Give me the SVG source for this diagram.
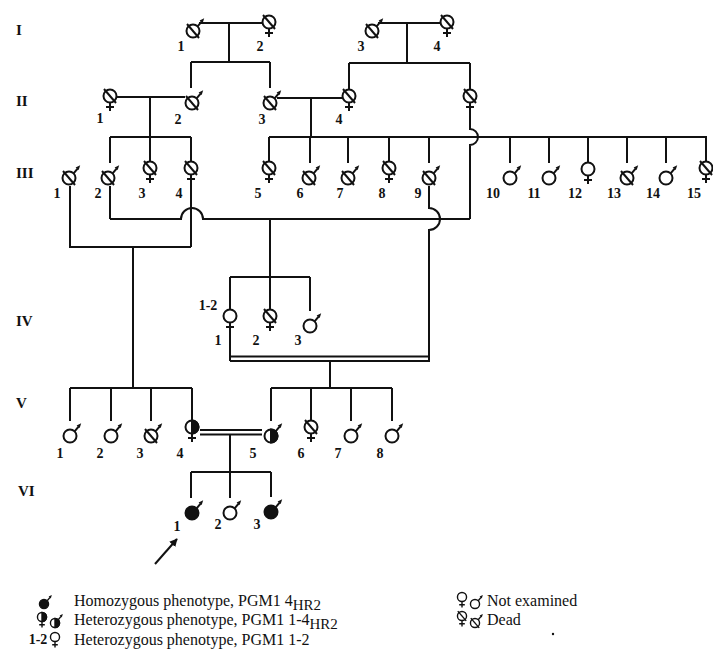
<svg xmlns="http://www.w3.org/2000/svg" xmlns:xlink="http://www.w3.org/1999/xlink" width="713" height="658" viewBox="0 0 713 658">
<style>
.c path,.c line{stroke:#111;stroke-width:2;fill:none}
.sym{stroke:#111;stroke-width:2}
.lbl{font-family:"Liberation Serif","Times New Roman",serif;font-size:14px;font-weight:bold;fill:#111;text-anchor:middle}
.gen{font-family:"Liberation Serif","Times New Roman",serif;font-size:15px;font-weight:bold;fill:#111}
.leg{font-family:"Liberation Serif","Times New Roman",serif;font-size:16px;fill:#111}
</style>
<defs>
<g id="m"><circle r="6.5"/><path d="M4.6,-4.6 L8.6,-9.4" fill="none"/><polygon points="11.2,-12.8 6.6,-10.6 9.7,-7.9" fill="#111" stroke="none"/></g>
<g id="f"><circle r="6.5"/><path d="M0,6.5 V15 M-4,11 H4" fill="none"/></g>
<path id="d" d="M-6,-7 L6,7" fill="none"/>
<path id="h" d="M0,-6.5 A6.5,6.5 0 0 1 0,6.5 Z" fill="#111"/>
<marker id="ah" viewBox="0 0 10 10" refX="9" refY="5" markerWidth="4" markerHeight="4" orient="auto"><path d="M0,0 L10,5 L0,10 Z" fill="#111"/></marker>
</defs>

<g id="gen-labels" class="gen">
<text x="16" y="35">I</text>
<text x="16" y="106">II</text>
<text x="16" y="178">III</text>
<text x="16" y="326">IV</text>
<text x="16" y="408">V</text>
<text x="18" y="496">VI</text>
</g>

<g id="connectors" class="c">
<path d="M199,23 H262 M229,23 V62 M191,62 H270 M191,62 V88 M270,62 V88"/>
<path d="M378,23 H440 M407,23 V63 M349,63 H470 M349,63 V89.5 M470,63 V89.5"/>
<path d="M117,97 H185 M150,97 V137 M110,137 H191 M110,137 V163 M150,137 V161.5 M191,137 V161.5"/>
<path d="M277,98 H342 M311,98 V137 M269,137 H707"/>
<path d="M269,137 V161.5 M310,137 V163 M348,137 V163 M389,137 V161.5 M429,137 V163 M510,137 V163 M549,137 V163 M588,137 V162 M627,137 V163 M666,137 V163 M706,137 V161.5"/>
<path d="M470,111 V129 A8,8 0 0 1 470,145 V219"/>
<path d="M470,219 H203 A11,11 0 0 0 181,219 H110 M110,186 V219"/>
<path d="M429,186 V208 A11,11 0 0 1 429,230 V361"/>
<path d="M191,183 V247 M70,186 V247 H191 M133,247 V388"/>
<path d="M70,388 H192 M70,388 V421 M111,388 V421 M151,388 V421 M192,388 V420.5"/>
<path d="M270,219 V277 M230,277 H310 M230,277 V309.5 M270,277 V309.5 M310,277 V311"/>
<path d="M230,331 V361 M230,356.5 H430 M230,361 H430 M330,361 V388"/>
<path d="M271,388 H392 M271,388 V421 M311,388 V420.5 M351,388 V421 M392,388 V421"/>
<path d="M200,430 H262 M200,434.5 H262 M230,434.5 V472"/>
<path d="M191,472 H271 M191,472 V498 M230,472 V498 M271,472 V497"/>
<line x1="155" y1="564" x2="177" y2="539" stroke-width="3" marker-end="url(#ah)"/>
</g>

<g id="I-1" class="sym"><use href="#m" x="193" y="31" fill="#fff"/><use href="#d" x="193" y="31"/><text class="lbl" x="181" y="51" stroke="none">1</text></g>
<g id="I-2" class="sym"><use href="#f" x="269" y="22" fill="#fff"/><use href="#d" x="269" y="22"/><text class="lbl" x="260" y="51" stroke="none">2</text></g>
<g id="I-3" class="sym"><use href="#m" x="372" y="31" fill="#fff"/><use href="#d" x="372" y="31"/><text class="lbl" x="361" y="51" stroke="none">3</text></g>
<g id="I-4" class="sym"><use href="#f" x="447" y="22" fill="#fff"/><use href="#d" x="447" y="22"/><text class="lbl" x="437" y="51" stroke="none">4</text></g>

<g id="II-1" class="sym"><use href="#f" x="110" y="96" fill="#fff"/><use href="#d" x="110" y="96"/><text class="lbl" x="100" y="123" stroke="none">1</text></g>
<g id="II-2" class="sym"><use href="#m" x="192" y="103" fill="#fff"/><use href="#d" x="192" y="103"/><text class="lbl" x="178" y="124" stroke="none">2</text></g>
<g id="II-3" class="sym"><use href="#m" x="270" y="103" fill="#fff"/><use href="#d" x="270" y="103"/><text class="lbl" x="262" y="124" stroke="none">3</text></g>
<g id="II-4" class="sym"><use href="#f" x="349" y="96" fill="#fff"/><use href="#d" x="349" y="96"/><text class="lbl" x="339" y="124" stroke="none">4</text></g>
<g id="II-5" class="sym"><use href="#f" x="470" y="96" fill="#fff"/><use href="#d" x="470" y="96"/></g>

<g id="III-1" class="sym"><use href="#m" x="69" y="178" fill="#fff"/><use href="#d" x="69" y="178"/><text class="lbl" x="57" y="198" stroke="none">1</text></g>
<g id="III-2" class="sym"><use href="#m" x="108" y="178" fill="#fff"/><use href="#d" x="108" y="178"/><text class="lbl" x="98" y="198" stroke="none">2</text></g>
<g id="III-3" class="sym"><use href="#f" x="150" y="168" fill="#fff"/><use href="#d" x="150" y="168"/><text class="lbl" x="142" y="198" stroke="none">3</text></g>
<g id="III-4" class="sym"><use href="#f" x="191" y="168" fill="#fff"/><use href="#d" x="191" y="168"/><text class="lbl" x="179" y="198" stroke="none">4</text></g>
<g id="III-5" class="sym"><use href="#f" x="269" y="168" fill="#fff"/><use href="#d" x="269" y="168"/><text class="lbl" x="258" y="198" stroke="none">5</text></g>
<g id="III-6" class="sym"><use href="#m" x="309" y="178" fill="#fff"/><use href="#d" x="309" y="178"/><text class="lbl" x="300" y="198" stroke="none">6</text></g>
<g id="III-7" class="sym"><use href="#m" x="348" y="178" fill="#fff"/><use href="#d" x="348" y="178"/><text class="lbl" x="340" y="198" stroke="none">7</text></g>
<g id="III-8" class="sym"><use href="#f" x="389" y="168" fill="#fff"/><use href="#d" x="389" y="168"/><text class="lbl" x="382" y="198" stroke="none">8</text></g>
<g id="III-9" class="sym"><use href="#m" x="429" y="178" fill="#fff"/><use href="#d" x="429" y="178"/><text class="lbl" x="418" y="198" stroke="none">9</text></g>
<g id="III-10" class="sym"><use href="#m" x="510" y="178" fill="#fff"/><text class="lbl" x="493" y="198" stroke="none">10</text></g>
<g id="III-11" class="sym"><use href="#m" x="549" y="178" fill="#fff"/><text class="lbl" x="534" y="198" stroke="none">11</text></g>
<g id="III-12" class="sym"><use href="#f" x="588" y="169" fill="#fff"/><text class="lbl" x="575" y="198" stroke="none">12</text></g>
<g id="III-13" class="sym"><use href="#m" x="627" y="178" fill="#fff"/><use href="#d" x="627" y="178"/><text class="lbl" x="614" y="198" stroke="none">13</text></g>
<g id="III-14" class="sym"><use href="#m" x="666" y="178" fill="#fff"/><text class="lbl" x="653" y="198" stroke="none">14</text></g>
<g id="III-15" class="sym"><use href="#f" x="706" y="168" fill="#fff"/><use href="#d" x="706" y="168"/><text class="lbl" x="694" y="198" stroke="none">15</text></g>

<g id="IV-1" class="sym"><use href="#f" x="230" y="316" fill="#fff"/><text class="lbl" x="208" y="310" stroke="none">1-2</text><text class="lbl" x="218" y="345" stroke="none">1</text></g>
<g id="IV-2" class="sym"><use href="#f" x="270" y="316" fill="#fff"/><use href="#d" x="270" y="316"/><text class="lbl" x="256" y="345" stroke="none">2</text></g>
<g id="IV-3" class="sym"><use href="#m" x="310" y="326" fill="#fff"/><text class="lbl" x="298" y="345" stroke="none">3</text></g>

<g id="V-1" class="sym"><use href="#m" x="70" y="436" fill="#fff"/><text class="lbl" x="60" y="458" stroke="none">1</text></g>
<g id="V-2" class="sym"><use href="#m" x="111" y="436" fill="#fff"/><text class="lbl" x="100" y="458" stroke="none">2</text></g>
<g id="V-3" class="sym"><use href="#m" x="151" y="436" fill="#fff"/><use href="#d" x="151" y="436"/><text class="lbl" x="140" y="458" stroke="none">3</text></g>
<g id="V-4" class="sym"><use href="#f" x="192" y="427" fill="#fff"/><use href="#h" x="192" y="427"/><text class="lbl" x="180" y="458" stroke="none">4</text></g>
<g id="V-5" class="sym"><use href="#m" x="271" y="436" fill="#fff"/><use href="#h" x="271" y="436"/><text class="lbl" x="253" y="458" stroke="none">5</text></g>
<g id="V-6" class="sym"><use href="#f" x="311" y="427" fill="#fff"/><use href="#d" x="311" y="427"/><text class="lbl" x="301" y="458" stroke="none">6</text></g>
<g id="V-7" class="sym"><use href="#m" x="351" y="436" fill="#fff"/><text class="lbl" x="338" y="458" stroke="none">7</text></g>
<g id="V-8" class="sym"><use href="#m" x="392" y="436" fill="#fff"/><text class="lbl" x="380" y="458" stroke="none">8</text></g>

<g id="VI-1" class="sym"><use href="#m" x="192" y="513" fill="#111"/><text class="lbl" x="177" y="531" stroke="none">1</text></g>
<g id="VI-2" class="sym"><use href="#m" x="230" y="513" fill="#fff"/><text class="lbl" x="218" y="529" stroke="none">2</text></g>
<g id="VI-3" class="sym"><use href="#m" x="271" y="512" fill="#111"/><text class="lbl" x="257" y="529" stroke="none">3</text></g>

<g id="legend">
<g class="sym" transform="translate(44,604) scale(0.7)"><use href="#m" fill="#111"/></g>
<text class="leg" x="74" y="606">Homozygous phenotype, PGM1 4<tspan font-size="15" dy="4">HR2</tspan></text>
<g class="sym" transform="translate(42,617) scale(0.7)"><use href="#f" fill="#fff"/><use href="#h"/></g>
<g class="sym" transform="translate(55,623) scale(0.7)"><use href="#m" fill="#fff"/><use href="#h"/></g>
<text class="leg" x="74" y="625">Heterozygous phenotype, PGM1 1-4<tspan font-size="15" dy="4">HR2</tspan></text>
<text class="lbl" x="38" y="644" font-size="12" font-weight="normal" stroke="none">1-2</text>
<g class="sym" transform="translate(55,637) scale(0.7)"><use href="#f" fill="#fff"/></g>
<text class="leg" x="74" y="645">Heterozygous phenotype, PGM1 1-2</text>
<g class="sym" transform="translate(462,597) scale(0.7)"><use href="#f" fill="#fff"/></g>
<g class="sym" transform="translate(475,604) scale(0.7)"><use href="#m" fill="#fff"/></g>
<text class="leg" x="487" y="606">Not examined</text>
<g class="sym" transform="translate(462,616) scale(0.7)"><use href="#f" fill="#fff"/><use href="#d"/></g>
<g class="sym" transform="translate(475,623) scale(0.7)"><use href="#m" fill="#fff"/><use href="#d"/></g>
<text class="leg" x="487" y="625">Dead</text>
<circle cx="553" cy="634" r="1.2" fill="#111"/>
</g>
</svg>
